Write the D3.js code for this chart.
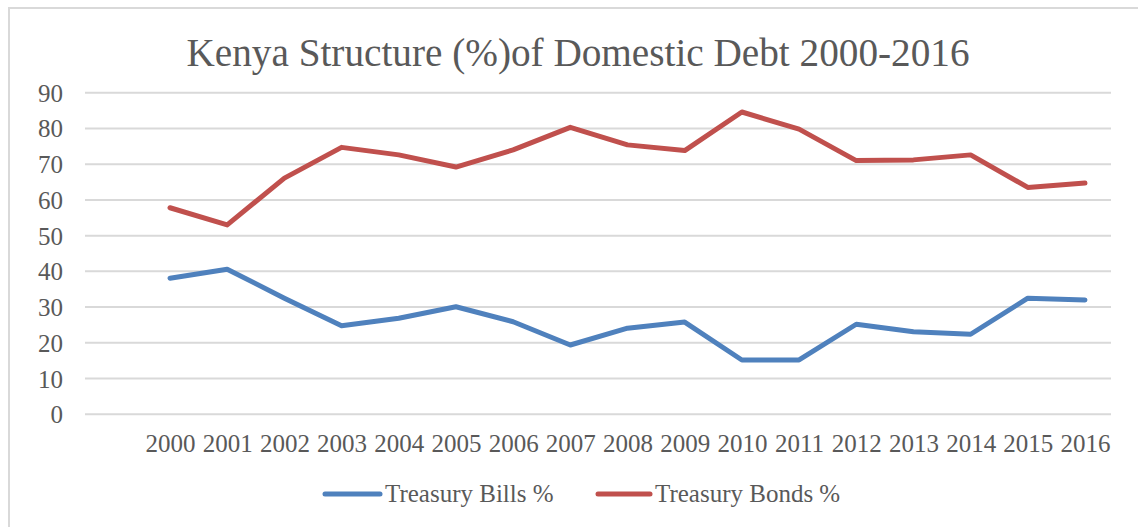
<!DOCTYPE html>
<html>
<head>
<meta charset="utf-8">
<script src="https://cdn.jsdelivr.net/npm/d3@7"></script>
<style>
  html, body { margin: 0; padding: 0; background: #fff; }
  svg { display: block; }
  text { font-family: "Liberation Serif", "DejaVu Serif", serif; fill: #595959; }
</style>
</head>
<body>
<svg id="chart" width="1138" height="527"></svg>
<script>
const years = ["2000","2001","2002","2003","2004","2005","2006","2007","2008","2009","2010","2011","2012","2013","2014","2015","2016"];
const billsValues = [38.1, 40.6, 32.5, 24.8, 26.9, 30.1, 25.9, 19.4, 24.1, 25.8, 15.2, 15.2, 25.2, 23.1, 22.4, 32.5, 32.0];
const bondsValues = [57.8, 53.0, 66.1, 74.7, 72.6, 69.2, 74.0, 80.3, 75.4, 73.8, 84.6, 79.8, 71.0, 71.2, 72.6, 63.5, 64.7];
const yTicks = [0, 10, 20, 30, 40, 50, 60, 70, 80, 90];
const seriesNames = ["Treasury Bills %", "Treasury Bonds %"];
const titleText = "Kenya Structure (%)of Domestic Debt 2000-2016";

const colors = ["#4F81BD", "#C0504D"];
const svg = d3.select("#chart");

// chart border
svg.append("rect")
  .attr("x", 9).attr("y", 8).attr("width", 1200).attr("height", 600)
  .attr("fill", "none").attr("stroke", "#D9D9D9").attr("stroke-width", 2);

const y = d3.scaleLinear().domain([0, 90]).range([414.3, 92.7]);
const x = d3.scalePoint().domain(years).range([170, 1085]);
const gridX0 = 85, gridX1 = 1111;

// gridlines
svg.append("g").selectAll("line").data(yTicks).join("line")
  .attr("x1", gridX0).attr("x2", gridX1)
  .attr("y1", d => y(d)).attr("y2", d => y(d))
  .attr("stroke", "#D9D9D9").attr("stroke-width", 2);

// y axis labels
const yAxis = d3.axisLeft(y).tickValues(yTicks).tickSize(0).tickPadding(0).tickFormat(d3.format("d"));
const gy = svg.append("g").attr("transform", "translate(63,0)").call(yAxis);
gy.select(".domain").remove();
gy.selectAll("text").attr("font-size", 25).attr("fill", "#595959")
  .attr("font-family", "Liberation Serif").attr("dy", "0.34em");

// x axis labels
const xAxis = d3.axisBottom(x).tickSize(0).tickPadding(0);
const gx = svg.append("g").attr("transform", "translate(0,452)").call(xAxis);
gx.select(".domain").remove();
gx.selectAll("text").attr("font-size", 25).attr("fill", "#595959")
  .attr("font-family", "Liberation Serif").attr("dy", 0).attr("y", 0);

// lines
const line = d3.line().x((d, i) => x(years[i])).y(d => y(d));
[billsValues, bondsValues].forEach((vals, k) => {
  svg.append("path").datum(vals)
    .attr("d", line)
    .attr("fill", "none")
    .attr("stroke", colors[k])
    .attr("stroke-width", 5)
    .attr("stroke-linejoin", "round")
    .attr("stroke-linecap", "round");
});

// title
svg.append("text")
  .attr("x", 578).attr("y", 66)
  .attr("text-anchor", "middle")
  .attr("font-size", 39)
  .attr("textLength", 783).attr("lengthAdjust", "spacingAndGlyphs")
  .text(titleText);

// legend
const legendItems = [
  { name: seriesNames[0], color: colors[0], x0: 325, x1: 380, tx: 385 },
  { name: seriesNames[1], color: colors[1], x0: 598, x1: 650, tx: 655 }
];
const lg = svg.append("g");
legendItems.forEach(it => {
  lg.append("line").attr("x1", it.x0).attr("x2", it.x1).attr("y1", 494).attr("y2", 494)
    .attr("stroke", it.color).attr("stroke-width", 5).attr("stroke-linecap", "round");
  lg.append("text").attr("x", it.tx).attr("y", 502).attr("font-size", 25).text(it.name);
});
</script>
</body>
</html>
